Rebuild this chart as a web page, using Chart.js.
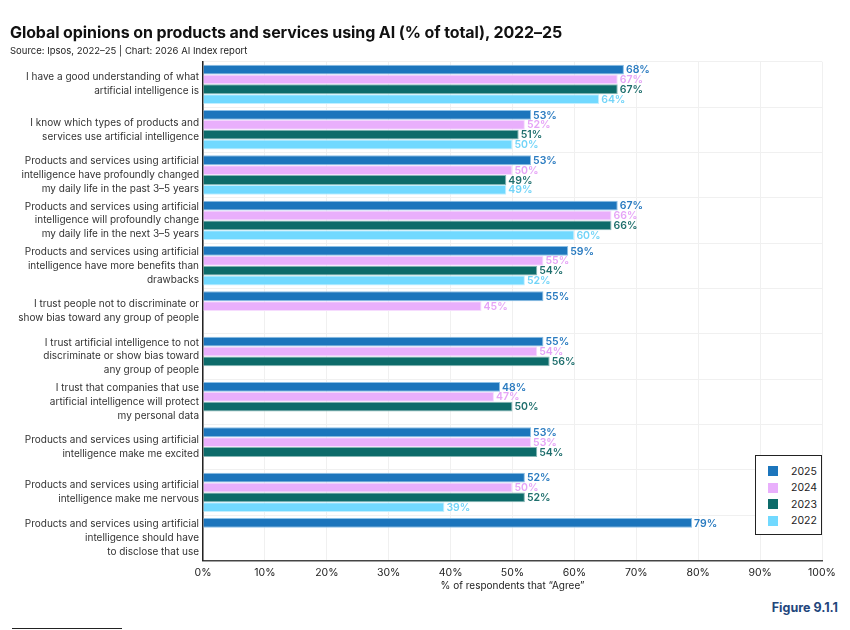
<!DOCTYPE html>
<html>
<head>
<meta charset="utf-8">
<script src="https://cdn.jsdelivr.net/npm/chart.js@4.4.1/dist/chart.umd.min.js"></script>
<style>
    body { margin: 0; background: #fff; font-family: Inter, "Noto Sans", sans-serif; }
    #wrap { position: relative; width: 850px; height: 630px; overflow: hidden; }
    .title { position: absolute; left: 10px; top: 22px; font-size: 16px; font-weight: 700; color: #111; letter-spacing: -0.1px; z-index: 2; }
    .source { position: absolute; left: 10px; top: 45px; font-size: 9.5px; color: #222; z-index: 2; }
    #chartBox { position: absolute; left: 0; top: 37px; width: 850px; height: 560px; }
    .legend { position: absolute; left: 755px; top: 455px; width: 67px; height: 80px; border: 1.5px solid #222; background: #fff; box-sizing: border-box; padding: 7px 0 0 12px; }
    .legend div { display: flex; align-items: center; height: 16.5px; font-size: 10.5px; color: #222; }
    .legend span { display: inline-block; width: 10px; height: 10px; margin-right: 13px; }
    .figure { position: absolute; right: 12px; top: 600px; font-size: 12.5px; font-weight: 700; color: #23467c; }
    .rule { position: absolute; left: 12px; top: 628px; width: 110px; height: 1px; background: #222; }
</style>
</head>
<body>
<div id="wrap">
    <div class="title">Global opinions on products and services using AI (% of total), 2022–25</div>
    <div class="source">Source: Ipsos, 2022–25 | Chart: 2026 AI Index report</div>
    <div id="chartBox"><canvas id="chart"></canvas></div>
    <div class="legend">
        <div><span style="background:#1c75bc"></span>2025</div>
        <div><span style="background:#e9affc"></span>2024</div>
        <div><span style="background:#0d6b6a"></span>2023</div>
        <div><span style="background:#71d9ff"></span>2022</div>
    </div>
    <div class="figure">Figure 9.1.1</div>
    <div class="rule"></div>
</div>
<script>
const categories = [
    ["I have a good understanding of what", "artificial intelligence is"],
    ["I know which types of products and", "services use artificial intelligence"],
    ["Products and services using artificial", "intelligence have profoundly changed", "my daily life in the past 3–5 years"],
    ["Products and services using artificial", "intelligence will profoundly change", "my daily life in the next 3–5 years"],
    ["Products and services using artificial", "intelligence have more benefits than", "drawbacks"],
    ["I trust people not to discriminate or", "show bias toward any group of people"],
    ["I trust artificial intelligence to not", "discriminate or show bias toward", "any group of people"],
    ["I trust that companies that use", "artificial intelligence will protect", "my personal data"],
    ["Products and services using artificial", "intelligence make me excited"],
    ["Products and services using artificial", "intelligence make me nervous"],
    ["Products and services using artificial", "intelligence should have", "to disclose that use"]
];

const values2025 = [68, 53, 53, 67, 59, 55, 55, 48, 53, 52, 79];
const values2024 = [67, 52, 50, 66, 55, 45, 54, 47, 53, 50, null];
const values2023 = [67, 51, 49, 66, 54, null, 56, 50, 54, 52, null];
const values2022 = [64, 50, 49, 60, 52, null, null, null, null, 39, null];

const xTicks = [0, 10, 20, 30, 40, 50, 60, 70, 80, 90, 100];

// value labels drawn at the end of each bar
const barLabels = {
    id: "barLabels",
    afterDatasetsDraw(chart) {
        const ctx = chart.ctx;
        ctx.save();
        ctx.font = "600 10.5px Inter, sans-serif";
        ctx.textBaseline = "middle";
        ctx.textAlign = "left";
        chart.data.datasets.forEach((ds, i) => {
            const meta = chart.getDatasetMeta(i);
            meta.data.forEach((bar, j) => {
                if (ds.data[j] == null) return;
                ctx.fillStyle = ds.labelColor;
                ctx.fillText(ds.data[j] + "%", bar.x + 2, bar.y + 0.5);
            });
        });
        ctx.restore();
    }
};

const ctx = document.getElementById("chart").getContext("2d");
new Chart(ctx, {
    type: "bar",
    data: {
        labels: categories,
        datasets: [
            { label: "2025", data: values2025, backgroundColor: "#1c75bc", borderColor: "#8cc0e6", labelColor: "#2a7bc0" },
            { label: "2024", data: values2024, backgroundColor: "#e9affc", borderColor: "#f6dcfe", labelColor: "#e6a4f7" },
            { label: "2023", data: values2023, backgroundColor: "#0d6b6a", borderColor: "#86b6b5", labelColor: "#1f6f6d" },
            { label: "2022", data: values2022, backgroundColor: "#71d9ff", borderColor: "#c2efff", labelColor: "#72d4f8" }
        ]
    },
    options: {
        indexAxis: "y",
        responsive: true,
        maintainAspectRatio: false,
        animation: false,
        datasets: {
            bar: { categoryPercentage: 0.87, barPercentage: 1.0, borderWidth: 1 }
        },
        layout: { padding: { left: 0, right: 28, top: 0, bottom: 0 } },
        plugins: {
            legend: { display: false },
            tooltip: { enabled: false }
        },
        scales: {
            x: {
                min: 0,
                max: 100,
                afterBuildTicks(scale) {
                    scale.ticks = xTicks.map(v => ({ value: v }));
                },
                ticks: {
                    callback: v => v + "%",
                    color: "#222",
                    font: { family: "Inter", size: 10.5 },
                    padding: 6
                },
                grid: { color: "#f0f0f0", drawTicks: false },
                border: { color: "#444", width: 1.5 },
                title: {
                    display: true,
                    text: "% of respondents that “Agree”",
                    color: "#222",
                    font: { family: "Inter", size: 10 },
                    padding: { top: -5, bottom: 5 }
                }
            },
            y: {
                afterFit(scale) { scale.width = 203; },
                ticks: {
                    color: "#333",
                    font: { family: "Inter", size: 10, lineHeight: 1.38 },
                    padding: 4,
                    autoSkip: false
                },
                grid: { color: "#f0f0f0", drawTicks: false },
                border: { color: "#222", width: 1.5 }
            }
        }
    },
    plugins: [barLabels]
});
</script>
</body>
</html>
